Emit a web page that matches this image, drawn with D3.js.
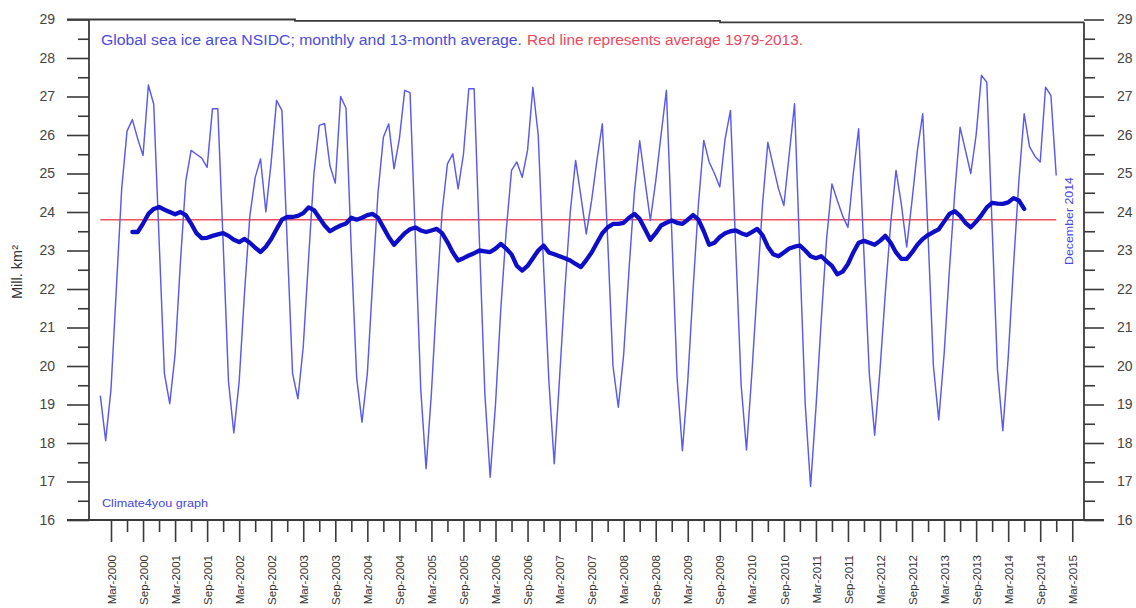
<!DOCTYPE html>
<html>
<head>
<meta charset="utf-8">
<script src="https://cdn.jsdelivr.net/npm/d3@7"></script>
<style>
  body { margin: 0; background: #fff; }
  svg { display: block; font-family: "Liberation Sans", Arial, sans-serif; }
</style>
</head>
<body>
<svg id="chart" width="1136" height="608"></svg>
<script>
// Global sea ice area (NSIDC), million km², one value per month from Jan 2000 to Dec 2014
const firstYear = 2000;
const monthlyArea = [
  19.23, 18.06, 19.4, 22.0, 24.6, 26.1, 26.4, 25.9, 25.47, 27.3, 26.8, 23.3,   // 2000
  19.8, 19.02, 20.3, 22.7, 24.8, 25.6, 25.5, 25.4, 25.16, 26.68, 26.68, 23.2,  // 2001
  19.6, 18.26, 19.6, 21.9, 23.9, 24.9, 25.38, 24.0, 25.3, 26.9, 26.64, 23.2,   // 2002
  19.8, 19.15, 20.5, 22.8, 25.0, 26.25, 26.3, 25.2, 24.75, 27.0, 26.7, 23.0,   // 2003
  19.7, 18.54, 19.8, 22.2, 24.5, 25.94, 26.29, 25.12, 25.9, 27.16, 27.1, 23.3, // 2004
  19.4, 17.33, 19.3, 21.8, 24.0, 25.25, 25.51, 24.6, 25.5, 27.2, 27.2, 23.2,   // 2005
  19.3, 17.11, 19.0, 21.5, 23.5, 25.08, 25.3, 24.9, 25.6, 27.24, 26.0, 22.6,   // 2006
  19.6, 17.46, 19.7, 22.0, 24.0, 25.34, 24.4, 23.43, 24.3, 25.35, 26.29, 23.3, // 2007
  20.0, 18.93, 20.3, 22.5, 24.5, 25.85, 24.8, 23.78, 24.8, 26.0, 27.16, 23.5,  // 2008
  19.7, 17.8, 19.6, 22.0, 24.2, 25.86, 25.3, 25.0, 24.65, 25.9, 26.64, 23.0,   // 2009
  19.5, 17.82, 19.8, 22.0, 24.2, 25.81, 25.2, 24.6, 24.17, 25.5, 26.81, 22.8,  // 2010
  19.0, 16.87, 18.9, 21.2, 23.3, 24.73, 24.3, 23.9, 23.6, 25.0, 26.16, 22.9,   // 2011
  19.8, 18.2, 19.9, 21.9, 23.7, 25.08, 24.2, 23.09, 24.3, 25.6, 26.55, 23.4,   // 2012
  20.0, 18.6, 20.3, 22.5, 24.5, 26.2, 25.6, 25.0, 26.0, 27.55, 27.37, 23.6,    // 2013
  19.9, 18.32, 20.2, 22.6, 24.8, 26.55, 25.7, 25.45, 25.3, 27.24, 27.03, 24.95  // 2014
];

// 13-month running mean, Jul 2000 to Jun 2014 (month offset 6 from Jan 2000)
const meanStartOffset = 6;
const runningMean13 = [
  23.48, 23.48, 23.70, 23.95, 24.08, 24.13,                                     // 2000 Jul-Dec
  24.06, 24.00, 23.94, 24.00, 23.92, 23.70, 23.45, 23.32, 23.33, 23.38, 23.42, 23.45, // 2001
  23.38, 23.28, 23.22, 23.30, 23.20, 23.07, 22.96, 23.10, 23.30, 23.55, 23.80, 23.87, // 2002
  23.87, 23.90, 23.97, 24.12, 24.05, 23.85, 23.65, 23.50, 23.58, 23.65, 23.70, 23.85, // 2003
  23.80, 23.85, 23.92, 23.95, 23.85, 23.60, 23.35, 23.15, 23.30, 23.45, 23.55, 23.60, // 2004
  23.52, 23.48, 23.52, 23.56, 23.45, 23.22, 22.95, 22.74, 22.80, 22.87, 22.93, 23.00, // 2005
  22.98, 22.96, 23.05, 23.17, 23.05, 22.90, 22.60, 22.48, 22.60, 22.80, 23.00, 23.13, // 2006
  22.95, 22.90, 22.85, 22.80, 22.74, 22.65, 22.57, 22.75, 22.95, 23.20, 23.45, 23.60, // 2007
  23.69, 23.69, 23.72, 23.85, 23.95, 23.82, 23.55, 23.28, 23.45, 23.65, 23.72, 23.78, // 2008
  23.72, 23.69, 23.80, 23.92, 23.80, 23.50, 23.15, 23.20, 23.35, 23.45, 23.50, 23.52, // 2009
  23.45, 23.40, 23.48, 23.56, 23.40, 23.10, 22.90, 22.85, 22.95, 23.05, 23.10, 23.13, // 2010
  23.00, 22.85, 22.80, 22.85, 22.72, 22.60, 22.38, 22.45, 22.65, 22.95, 23.20, 23.25, // 2011
  23.20, 23.15, 23.25, 23.38, 23.20, 22.95, 22.78, 22.78, 22.95, 23.15, 23.30, 23.40, // 2012
  23.48, 23.55, 23.75, 23.95, 24.02, 23.90, 23.72, 23.60, 23.75, 23.92, 24.12, 24.24, // 2013
  24.22, 24.21, 24.25, 24.36, 24.30, 24.08                                      // 2014 Jan-Jun
];

// Average 1979-2013 reference level
const referenceAverage = 23.8;

const yTickValues = [16, 17, 18, 19, 20, 21, 22, 23, 24, 25, 26, 27, 28, 29];
const yMinorValues = [16.5, 17.5, 18.5, 19.5, 20.5, 21.5, 22.5, 23.5, 24.5, 25.5, 26.5, 27.5, 28.5];
const xTickLabels = [
  "Mar-2000", "Sep-2000", "Mar-2001", "Sep-2001", "Mar-2002", "Sep-2002",
  "Mar-2003", "Sep-2003", "Mar-2004", "Sep-2004", "Mar-2005", "Sep-2005",
  "Mar-2006", "Sep-2006", "Mar-2007", "Sep-2007", "Mar-2008", "Sep-2008",
  "Mar-2009", "Sep-2009", "Mar-2010", "Sep-2010", "Mar-2011", "Sep-2011",
  "Mar-2012", "Sep-2012", "Mar-2013", "Sep-2013", "Mar-2014", "Sep-2014",
  "Mar-2015"
];
const monthNames = ["Jan","Feb","Mar","Apr","May","Jun","Jul","Aug","Sep","Oct","Nov","Dec"];

// ---- layout ----
const svg = d3.select("#chart");
const plotLeft = 89, plotRight = 1084, plotTop = 19.5, plotBottom = 520;
const axisColor = "#3a3a3a";
const labelColor = "#444";

// months counted from January of the first year
const monthOffset = label => {
  const [mon, yr] = label.split("-");
  return (+yr - firstYear) * 12 + monthNames.indexOf(mon);
};

const x = d3.scaleLinear().domain([-2.12, 184.2]).range([plotLeft, plotRight]);
const y = d3.scaleLinear().domain([16, 29]).range([plotBottom, plotTop]);

// ---- frame ----
const frame = svg.append("g").attr("fill", "none").attr("stroke", axisColor).attr("stroke-width", 1.8);
frame.append("line").attr("x1", plotLeft).attr("x2", plotLeft).attr("y1", plotTop).attr("y2", plotBottom);
frame.append("line").attr("x1", plotRight).attr("x2", plotRight).attr("y1", 22.3).attr("y2", plotBottom);
frame.append("line").attr("x1", plotLeft - 22).attr("x2", plotRight + 20).attr("y1", plotBottom).attr("y2", plotBottom);
frame.append("path").attr("d", `M${plotLeft - 22},${plotTop} H295 V20.8 H720 V22.3 H${plotRight}`);

// ---- y axes ----
function styleAxis(g) {
  g.select(".domain").remove();
  g.selectAll(".tick line").attr("stroke", axisColor).attr("stroke-width", 1.6);
  g.selectAll(".tick text").attr("fill", labelColor).attr("font-size", 14)
    .attr("font-family", "Liberation Sans, Arial, sans-serif");
}

svg.append("g").attr("transform", `translate(${plotLeft},0)`)
  .call(d3.axisLeft(y).tickValues(yTickValues).tickSize(22).tickPadding(12).tickFormat(d3.format("d")))
  .call(styleAxis);
svg.append("g").attr("transform", `translate(${plotLeft},0)`)
  .call(d3.axisLeft(y).tickValues(yMinorValues).tickSize(11).tickFormat(""))
  .call(styleAxis);
svg.append("g").attr("transform", `translate(${plotRight},0)`)
  .call(d3.axisRight(y).tickValues(yTickValues).tickSize(20).tickPadding(13).tickFormat(d3.format("d")))
  .call(styleAxis);
svg.append("g").attr("transform", `translate(${plotRight},0)`)
  .call(d3.axisRight(y).tickValues(yMinorValues).tickSize(11).tickFormat(""))
  .call(styleAxis);

// ---- x axis ----
const majorOffsets = xTickLabels.map(monthOffset);
const minorOffsets = majorOffsets.slice(0, -1).map(m => m + 3);
const labelByOffset = new Map(xTickLabels.map(l => [monthOffset(l), l]));

const xAxis = svg.append("g").attr("transform", `translate(0,${plotBottom})`)
  .call(d3.axisBottom(x).tickValues(majorOffsets).tickSize(22).tickFormat(m => labelByOffset.get(m)))
  .call(styleAxis);
xAxis.selectAll(".tick text")
  .attr("font-size", 11.5)
  .attr("fill", "#333")
  .attr("transform", "rotate(-90)")
  .attr("text-anchor", "end")
  .attr("x", -35).attr("y", 0).attr("dy", "0.36em");
svg.append("g").attr("transform", `translate(0,${plotBottom})`)
  .call(d3.axisBottom(x).tickValues(minorOffsets).tickSize(12).tickFormat(""))
  .call(styleAxis);

// ---- data lines ----
const monthly = monthlyArea.map((v, i) => ({ m: i, v }));
const mean = runningMean13.map((v, i) => ({ m: i + meanStartOffset, v }));
const line = d3.line().x(d => x(d.m)).y(d => y(d.v));

svg.append("line")
  .attr("x1", x(0)).attr("x2", x(monthlyArea.length - 1))
  .attr("y1", y(referenceAverage)).attr("y2", y(referenceAverage))
  .attr("stroke", "#f0505e").attr("stroke-width", 1.6);

svg.append("path").datum(monthly)
  .attr("fill", "none").attr("stroke", "#5a5aee").attr("stroke-width", 1.45)
  .attr("stroke-linejoin", "round").attr("d", line);

svg.append("path").datum(mean)
  .attr("fill", "none").attr("stroke", "#0e0ec8").attr("stroke-width", 4.3)
  .attr("stroke-linejoin", "round").attr("stroke-linecap", "round").attr("d", line);

// ---- texts ----
svg.append("text").attr("x", 101).attr("y", 44.5)
  .attr("font-size", 15.5).attr("fill", "#4b4be0")
  .attr("textLength", 421).attr("lengthAdjust", "spacingAndGlyphs")
  .text("Global sea ice area NSIDC; monthly and 13-month average.");
svg.append("text").attr("x", 527).attr("y", 44.5)
  .attr("font-size", 15.5).attr("fill", "#f0465e")
  .attr("textLength", 276).attr("lengthAdjust", "spacingAndGlyphs")
  .text("Red line represents average 1979-2013.");

svg.append("text").attr("x", 102).attr("y", 507)
  .attr("font-size", 11.5).attr("fill", "#4646e0")
  .attr("textLength", 106).attr("lengthAdjust", "spacingAndGlyphs")
  .text("Climate4you graph");

svg.append("text")
  .attr("transform", "translate(1073,221) rotate(-90)")
  .attr("text-anchor", "middle").attr("font-size", 11.5).attr("fill", "#4646e0")
  .attr("textLength", 88).attr("lengthAdjust", "spacingAndGlyphs")
  .text("December 2014");

svg.append("text")
  .attr("transform", "translate(22,272) rotate(-90)")
  .attr("text-anchor", "middle").attr("font-size", 14.5).attr("fill", "#333")
  .text("Mill. km²");
</script>
</body>
</html>
